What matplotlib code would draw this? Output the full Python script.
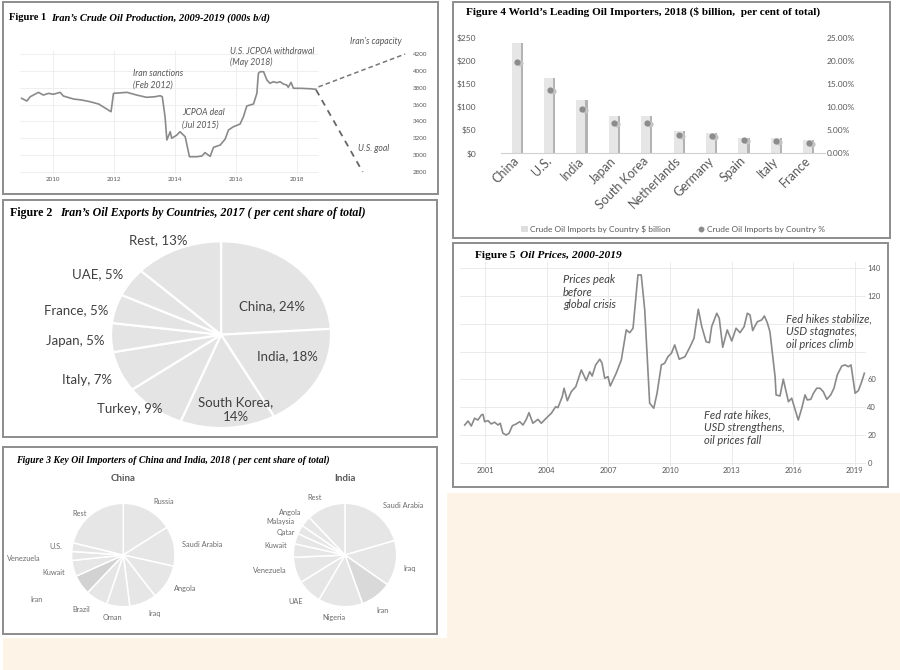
import numpy as np
import matplotlib
matplotlib.use('Agg')
import matplotlib.pyplot as plt
from matplotlib.patches import Rectangle
from matplotlib.lines import Line2D

W, H = 900, 670
SERIF = ['Liberation Serif', 'DejaVu Serif']
SANS = ['Lato', 'DejaVu Sans']
plt.rcParams['font.family'] = SANS
GREY = '#595959'
LINE = '#8a8a8a'

# Figure 1: Iran crude production (000s b/d)
iran_t = [2008.97, 2009.14, 2009.25, 2009.52, 2009.68, 2009.85, 2010.01, 2010.23, 2010.34, 2010.67,
          2010.94, 2011.21, 2011.49, 2011.76, 2011.90, 2011.98, 2012.42, 2012.74, 2013.07, 2013.34,
          2013.51, 2013.58, 2013.67, 2013.73, 2013.84, 2013.89, 2014.06, 2014.16, 2014.33, 2014.47,
          2014.71, 2014.88, 2014.98, 2015.15, 2015.26, 2015.48, 2015.64, 2015.75, 2015.91, 2016.13,
          2016.24, 2016.35, 2016.57, 2016.68, 2016.73, 2016.79, 2016.90, 2017.01, 2017.11, 2017.22,
          2017.33, 2017.44, 2017.55, 2017.66, 2017.71, 2017.80, 2017.88, 2018.10, 2018.43, 2018.61]
iran_prod = [3674, 3642, 3693, 3745, 3713, 3733, 3722, 3745, 3701, 3666,
             3654, 3634, 3607, 3547, 3515, 3733, 3745, 3713, 3686, 3693,
             3705, 3693, 3456, 3180, 3278, 3200, 3239, 3278, 3219, 2981,
             2981, 2990, 3030, 2985, 3093, 3120, 3190, 3298, 3337, 3369,
             3456, 3583, 3607, 3733, 3971, 3990, 3990, 3891, 3852, 3871,
             3859, 3871, 3844, 3832, 3805, 3864, 3793, 3793, 3788, 3781]
capacity_t = [2018.70, 2021.54]
capacity_v = [3810, 4200]
goal_t = [2018.62, 2020.15]
goal_v = [3775, 2800]

# Figure 2: Iran oil exports 2017 (%)
exp_names = ['China', 'India', 'South Korea', 'Turkey', 'Italy', 'Japan', 'France', 'UAE', 'Rest']
exp_share = [24, 18, 14, 9, 7, 5, 5, 5, 13]
exp_labels = ['China, 24%', 'India, 18%', 'South Korea,\n14%', 'Turkey, 9%', 'Italy, 7%',
              'Japan, 5%', 'France, 5%', 'UAE, 5%', 'Rest, 13%']

# Figure 3: key suppliers of China and India 2018 (%)
china_src = ['Russia', 'Saudi Arabia', 'Angola', 'Iraq', 'Oman', 'Brazil', 'Iran', 'Kuwait',
             'Venezuela', 'U.S.', 'Rest']
china_share = [16.0, 12.5, 11.0, 8.5, 7.2, 6.9, 6.2, 5.0, 2.8, 2.7, 21.2]
india_src = ['Saudi Arabia', 'Iraq', 'Iran', 'Nigeria', 'UAE', 'Venezuela', 'Kuwait', 'Qatar',
             'Malaysia', 'Angola', 'Rest']
india_share = [20.5, 14.2, 9.8, 13.9, 7.8, 8.1, 4.2, 3.3, 2.8, 3.3, 12.1]

# Figure 4: leading importers 2018
importers = ['China', 'U.S.', 'India', 'Japan', 'South Korea', 'Netherlands', 'Germany',
             'Spain', 'Italy', 'France']
usd_bn = [239, 162, 115, 80, 80, 48, 43, 34, 33, 29]
pct_total = [19.8, 13.7, 9.6, 6.6, 6.6, 4.0, 3.7, 2.9, 2.7, 2.3]

# Figure 5: oil price ($/bbl)
price_t = [2000.00, 2000.16, 2000.32, 2000.48, 2000.64, 2000.81, 2000.89, 2000.97, 2001.13, 2001.29,
           2001.46, 2001.62, 2001.73, 2001.86, 2002.02, 2002.16, 2002.32, 2002.51, 2002.68, 2002.84,
           2003.00, 2003.13, 2003.32, 2003.57, 2003.73, 2003.97, 2004.22, 2004.43, 2004.54, 2004.75,
           2004.84, 2005.00, 2005.19, 2005.41, 2005.68, 2005.92, 2006.09, 2006.21, 2006.38, 2006.58,
           2006.69, 2006.82, 2006.98, 2007.09, 2007.38, 2007.63, 2007.87, 2008.04, 2008.20, 2008.44,
           2008.60, 2008.77, 2009.01, 2009.21, 2009.37, 2009.58, 2009.74, 2009.90, 2010.07, 2010.23,
           2010.45, 2010.73, 2010.98, 2011.17, 2011.38, 2011.55, 2011.76, 2011.92, 2012.03, 2012.28,
           2012.40, 2012.57, 2012.79, 2013.01, 2013.22, 2013.41, 2013.61, 2013.77, 2013.90, 2014.03,
           2014.14, 2014.26, 2014.47, 2014.60, 2014.74, 2014.87, 2015.12, 2015.17, 2015.36, 2015.52,
           2015.77, 2015.93, 2016.09, 2016.25, 2016.42, 2016.58, 2016.69, 2016.86, 2016.99, 2017.15,
           2017.31, 2017.47, 2017.64, 2017.83, 2017.99, 2018.15, 2018.37, 2018.53, 2018.69, 2018.82,
           2019.02, 2019.18, 2019.34, 2019.47]
price_v = [27.1, 30.0, 26.4, 32.0, 30.7, 34.3, 34.8, 29.5, 30.3, 27.9,
           29.1, 27.1, 28.4, 21.2, 19.9, 21.2, 26.6, 27.9, 29.5, 27.1,
           31.2, 36.0, 28.4, 31.2, 28.4, 32.0, 35.6, 40.3, 39.6, 47.5,
           53.6, 44.6, 51.1, 54.7, 66.8, 59.1, 65.5, 62.4, 70.4, 74.5,
           71.6, 60.8, 61.9, 55.2, 64.4, 74.0, 95.6, 93.6, 96.8, 135.2,
           135.2, 110.0, 42.8, 39.2, 50.0, 70.4, 71.6, 76.3, 78.8, 84.8,
           74.5, 76.3, 83.5, 89.6, 110.5, 97.9, 87.1, 86.4, 97.9, 107.6,
           104.0, 83.1, 95.6, 87.6, 96.8, 93.6, 97.9, 107.6, 106.4, 95.1,
           98.4, 101.5, 102.8, 105.6, 100.8, 94.3, 61.9, 48.8, 48.0, 60.1,
           43.9, 46.4, 38.5, 30.7, 39.2, 48.8, 45.2, 45.6, 50.0, 53.6,
           53.6, 51.1, 45.6, 48.8, 53.6, 63.2, 69.6, 70.4, 69.1, 70.4,
           50.0, 51.9, 58.3, 64.4]
price_ticks = [0, 20, 40, 60, 80, 100, 120, 140]
price_ticklabels = ['0', '20', '40', '60', '', '', '120', '140']  # 80/100 hidden by the note

fig = plt.figure(figsize=(9, 6.7), dpi=100)


def fx(x):
    return x / W


def fy(y):
    return 1 - y / H


def area(x0, y0, x1, y1):
    # pixel box (top-left origin) -> figure fraction rect
    return [x0 / W, 1 - y1 / H, (x1 - x0) / W, (y1 - y0) / H]


def frame(x0, y0, x1, y1, fc='white', ec='#8c8c8c', lw=1.4, z=-4):
    fig.patches.append(Rectangle((x0 / W, 1 - y1 / H), (x1 - x0) / W, (y1 - y0) / H,
                                 transform=fig.transFigure, fc=fc, ec=ec, lw=lw, zorder=z))


def title(x, y, head, size, rest=None, x2=None, head_style='normal'):
    fig.text(fx(x), fy(y), head, family=SERIF, weight='bold', style=head_style, size=size, va='center')
    if rest:
        fig.text(fx(x2), fy(y), rest, family=SERIF, weight='bold', style='italic', size=size, va='center')


# background panels
frame(447, 493, 900, 670, fc='#fdf3e6', ec='none', z=-5)
frame(3, 638, 900, 670, fc='#fdf3e6', ec='none', z=-5)
frame(3, 2, 438, 194)
frame(453, 2, 890, 238)
frame(3, 200, 437, 437)
frame(3, 447, 437, 634)
frame(453, 243, 888, 487)

# ---------------- Figure 1 ----------------
title(9, 18, 'Figure 1', 7.6, "Iran\u2019s Crude Oil Production, 2009-2019 (000s b/d)", 50.7)
ax1 = fig.add_axes(area(18, 30, 410, 174))
ax1.set_facecolor('none')
ax1.set_xlim(2008.85, 2021.70)
ax1.set_ylim(2776, 4485)
ax1.hlines(np.arange(2800, 4201, 200), 2008.93, 2018.7, color='#ececec', lw=0.6, zorder=0)
ax1.vlines(np.arange(2010, 2019, 2), 2780, 4250, color='#ececec', lw=0.6, zorder=0)
ax1.plot(iran_t, iran_prod, color=LINE, lw=1.2)
ax1.plot(capacity_t, capacity_v, color='#777777', lw=1.1, ls=(0, (3, 2)))
ax1.plot(goal_t, goal_v, color='#666666', lw=1.3, ls=(0, (3.5, 3)))
for s in ax1.spines.values():
    s.set_visible(False)
ax1.yaxis.tick_right()
ax1.set_xticks(np.arange(2010, 2019, 2))
ax1.set_yticks(np.arange(2800, 4201, 200))
ax1.tick_params(length=0, labelsize=4.5, colors=GREY, pad=2)
notes1 = [(2012.63, 3974, 'Iran sanctions'), (2012.63, 3832, '(Feb 2012)'),
          (2014.23, 3500, 'JCPOA deal'), (2014.23, 3358, '(Jul 2015)'),
          (2015.80, 4235, 'U.S. JCPOA withdrawal'), (2015.80, 4105, '(May 2018)'),
          (2019.74, 4354, "Iran\u2019s capacity"), (2020.00, 3073, 'U.S. goal')]
for x, y, s in notes1:
    ax1.text(x, y, s, style='italic', size=6.2, color='#555555', va='center')

# ---------------- Figure 4 ----------------
title(466, 12, "Figure 4 World\u2019s Leading Oil Importers, 2018 ($ billion,  per cent of total)", 8.1)
ax4 = fig.add_axes(area(501, 37.7, 825, 153.3))
ax4.set_facecolor('none')
xi = np.arange(len(importers))
ax4.bar(xi - 0.035, usd_bn, width=0.28, color='#e6e6e6', zorder=2)
ax4.bar(xi + 0.14, usd_bn, width=0.07, color='#b3b3b3', zorder=2)
ax4.set_xlim(-0.5, 9.5)
ax4.set_ylim(0, 250)
for k, s in ax4.spines.items():
    s.set_visible(k == 'bottom')
ax4.spines['bottom'].set_color('#d0d0d0')
ax4.set_yticks(np.arange(0, 251, 50))
ax4.set_yticklabels(['$%d' % v for v in range(0, 251, 50)])
ax4.set_xticks(xi)
ax4.set_xticklabels(importers, rotation=45, ha='right', va='center', rotation_mode='anchor')
ax4.tick_params(axis='y', length=0, labelsize=6, colors=GREY, pad=18)
ax4.tick_params(axis='x', length=0, labelsize=9, colors=GREY, pad=4)
ax4r = ax4.twinx()
ax4r.set_ylim(0, 25)
ax4r.scatter(xi + 0.09, np.array(pct_total) - 0.25, s=20, color='#c4c4c4', zorder=3, lw=0)
ax4r.scatter(xi, pct_total, s=20, color='#8c8c8c', zorder=4, lw=0)
for s in ax4r.spines.values():
    s.set_visible(False)
ax4r.set_yticks(np.arange(0, 26, 5))
ax4r.set_yticklabels(['%.2f%%' % v for v in range(0, 26, 5)])
ax4r.tick_params(length=0, labelsize=6, colors=GREY, pad=1)
handles = [Rectangle((0, 0), 1, 1, fc='#dedede', ec='none'),
           Line2D([], [], marker='o', ls='none', color='#8c8c8c', markersize=3.2)]
fig.legend(handles, ['Crude Oil Imports by Country $ billion', 'Crude Oil Imports by Country %'],
           loc='center', bbox_to_anchor=(fx(673), fy(229)), ncol=2, frameon=False, fontsize=6,
           handlelength=0.8, handleheight=0.8, columnspacing=3.2, handletextpad=0.3, labelcolor=GREY)

# ---------------- Figure 2 ----------------
title(10, 213, 'Figure 2', 8.6, "Iran\u2019s Oil Exports by Countries, 2017 ( per cent share of total)", 60)
ax2 = fig.add_axes(area(5, 222, 435, 435))
ax2.pie(exp_share, startangle=90, counterclock=False, colors=['#e4e4e4'] * len(exp_share),
        wedgeprops=dict(edgecolor='white', linewidth=1.6))
ax2.set_aspect('auto')
ax2.set_xlim(-1.964, 1.945)
ax2.set_ylim(-1.074, 1.207)
ax2.axis('off')
exp_pos = [(0.46, 0.307), (0.60, -0.228), (0.136, -0.806), (-0.827, -0.795), (-1.218, -0.485),
           (-1.327, -0.067), (-1.318, 0.264), (-1.118, 0.65), (-0.573, 1.014)]
for (x, y), s in zip(exp_pos, exp_labels):
    ax2.text(x, y, s, ha='center', va='center', size=9.5, color='#404040', linespacing=1.3)

# ---------------- Figure 3 ----------------
title(16, 460, 'Figure 3 Key Oil Importers of China and India, 2018 ( per cent share of total)', 7.0,
      head_style='italic')
china_pos = [(0.774, 1.031), (1.516, 0.207), (1.193, -0.644), (0.600, -1.128), (-0.205, -1.213),
             (-0.805, -1.050), (-1.675, -0.857), (-1.340, -0.335), (-1.921, -0.064), (-1.308, 0.161),
             (-0.851, 0.807)]
india_pos = [(1.116, 0.967), (1.257, -0.257), (0.729, -1.077), (-0.207, -1.213), (-0.954, -0.890),
             (-1.451, -0.304), (-1.335, 0.180), (-1.141, 0.439), (-1.257, 0.644), (-1.064, 0.818),
             (-0.580, 1.108)]
pies = [(area(5, 470, 220, 632), (-2.288, 1.870), 'China', china_src, china_share, china_pos, '#d2d2d2'),
        (area(225, 470, 435, 632), (-2.321, 1.741), 'India', india_src, india_share, india_pos, '#d9d9d9')]
for rect, xl, name, src, share, pos, iran_c in pies:
    ax = fig.add_axes(rect)
    cols = [iran_c if s == 'Iran' else '#e6e6e6' for s in src]
    ax.pie(share, startangle=90, counterclock=False, colors=cols,
           wedgeprops=dict(edgecolor='white', linewidth=1.1))
    ax.set_aspect('auto')
    ax.set_xlim(*xl)
    ax.set_ylim(-1.489, 1.644)
    ax.axis('off')
    ax.text(0, 1.484, name, ha='center', va='center', size=7, weight='bold', color=GREY)
    for (x, y), s in zip(pos, src):
        ax.text(x, y, s, ha='center', va='center', size=5.3, color='#6b6b6b')

# ---------------- Figure 5 ----------------
title(475, 255, 'Figure 5', 8.2, 'Oil Prices, 2000-2019', 519.7)
ax5 = fig.add_axes(area(460, 262, 866, 466))
ax5.set_facecolor('none')
ax5.plot(price_t, price_v, color=LINE, lw=1.2, zorder=3)
ax5.set_xlim(1999.77, 2019.55)
ax5.set_ylim(-2.4, 144.5)
ax5.set_xticks(np.arange(2001, 2020, 3))
ax5.set_yticks(price_ticks)
ax5.set_yticklabels(price_ticklabels)
ax5.grid(color='#e8e8e8', lw=0.6, zorder=0)
for s in ax5.spines.values():
    s.set_visible(False)
ax5.yaxis.tick_right()
ax5.tick_params(length=0, labelsize=5.5, colors=GREY, pad=1)
notes5 = [(2004.79, 136, 'Prices peak\nbefore\nglobal crisis'),
          (2015.67, 107.5, 'Fed hikes stabilize,\nUSD stagnates,\noil prices climb'),
          (2011.64, 38.5, 'Fed rate hikes,\nUSD strengthens,\noil prices fall')]
for x, y, s in notes5:
    ax5.text(x, y, s, style='italic', size=8, color='#404040', va='top', linespacing=1.2)

fig.savefig('out.png', dpi=100, facecolor='white')
